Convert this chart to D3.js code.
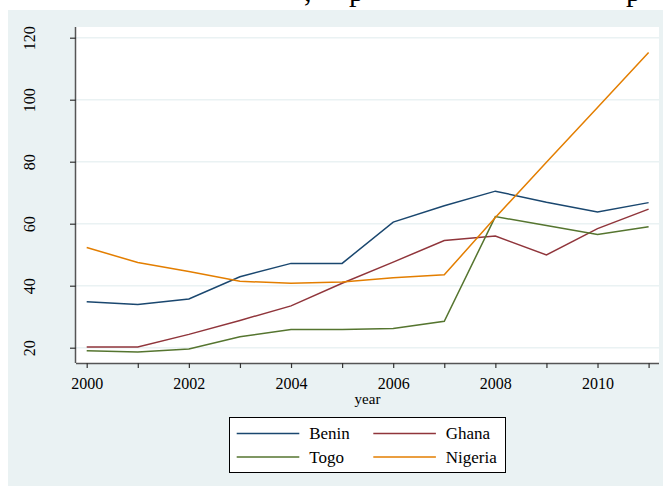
<!DOCTYPE html>
<html><head><meta charset="utf-8">
<script src="https://cdn.jsdelivr.net/npm/d3@7"></script>
<style>
html,body{margin:0;padding:0;background:#fff;}
svg{display:block;font-family:"Liberation Serif","Times New Roman",serif;}
</style></head>
<body>
<svg id="c" width="663" height="486"></svg>
<script>
const years = [2000,2001,2002,2003,2004,2005,2006,2007,2008,2009,2010,2011];
const benin   = [34.8,33.9,35.7,42.9,47.2,47.2,60.5,65.8,70.5,66.9,63.8,66.8];
const ghana   = [20.2,20.2,24.3,28.8,33.5,40.8,47.6,54.6,56.0,49.9,58.4,64.7];
const togo    = [19.0,18.6,19.6,23.5,25.9,25.9,26.2,28.5,62.3,59.4,56.5,59.0];
const nigeria = [52.3,47.5,44.6,41.4,40.8,41.2,42.6,43.5,62.0,79.8,97.5,115.2];
const seriesNames = ["Benin","Ghana","Togo","Nigeria"];
const seriesColors = ["#1a476f","#90353b","#55752f","#e37e00"];
const yTicks = [20,40,60,80,100,120];
const xTickLabels = [2000,2002,2004,2006,2008,2010];
const xLabel = "year";

const series = [benin, ghana, togo, nigeria];
const svg = d3.select("#c");
const SERIF = "'Liberation Serif', 'Times New Roman', serif";

// document fragments at the top
svg.append("rect").attr("x",0).attr("y",0).attr("width",663).attr("height",10).attr("fill","#fff");
svg.append("g").attr("font-size",30).attr("fill","#000").attr("font-family",SERIF)
  .selectAll("text").data([{t:",",x:304},{t:"p",x:349},{t:"p",x:626}]).join("text")
  .attr("x",d=>d.x).attr("y",1).text(d=>d.t);

// outer background
svg.append("rect").attr("x",8).attr("y",10).attr("width",655).attr("height",476).attr("fill","#eaf2f3");

const L=76, R=659, T=27, B=363;
svg.append("rect").attr("x",L).attr("y",T).attr("width",R-L).attr("height",B-T).attr("fill","#fff");

const x = d3.scaleLinear().domain([2000,2011]).range([86.7,648.6]);
const y = d3.scaleLinear().domain([20,120]).range([347.7,37.7]);

// gridlines
svg.append("g").selectAll("line").data(yTicks).join("line")
  .attr("x1",L).attr("x2",R).attr("y1",d=>y(d)).attr("y2",d=>y(d))
  .attr("stroke","#eaf2f3").attr("stroke-width",1.5);

// lines
const line = d3.line().x((d,i)=>x(years[i])).y(d=>y(d));
svg.append("g").selectAll("path").data(series).join("path")
  .attr("d",d=>line(d)).attr("fill","none")
  .attr("stroke",(d,i)=>seriesColors[i]).attr("stroke-width",1.5)
  .attr("stroke-linejoin","miter");

// y axis
const yAxis = d3.axisLeft(y).tickValues(yTicks).tickSize(6).tickPadding(34).tickFormat(d3.format("d"));
const gy = svg.append("g").attr("transform",`translate(${L},0)`).call(yAxis);
gy.attr("font-family",SERIF);
gy.select(".domain").attr("d",`M-0.5,${T}V${B}`).attr("stroke","#555").attr("stroke-width",1.5);
gy.selectAll(".tick line").attr("stroke","#333").attr("stroke-width",1.2);
gy.selectAll(".tick text").attr("font-size",16).attr("font-family",SERIF).attr("fill","#000")
  .attr("text-anchor","middle").attr("dy",0).attr("x",0).attr("y",0)
  .attr("transform","translate(-41.5,0) rotate(-90)");

// x axis
const xAxis = d3.axisBottom(x).tickValues(years).tickSize(5).tickPadding(8)
  .tickFormat(d=>xTickLabels.includes(d)?String(d):"");
const gx = svg.append("g").attr("transform",`translate(0,${B})`).call(xAxis);
gx.attr("font-family",SERIF);
gx.select(".domain").attr("d",`M${L},0.5H${R}`).attr("stroke","#555").attr("stroke-width",1.5);
gx.selectAll(".tick line").attr("stroke","#333").attr("stroke-width",1.2);
gx.selectAll(".tick text").attr("font-size",16).attr("font-family",SERIF).attr("fill","#000")
  .attr("dy",0).attr("y",26);

svg.append("text").attr("x",(L+R)/2).attr("y",404).attr("text-anchor","middle")
  .attr("font-family",SERIF).attr("font-size",15).attr("fill","#000").text(xLabel);

// legend
const lg = svg.append("g").attr("font-family",SERIF);
lg.append("rect").attr("x",229.5).attr("y",417.5).attr("width",276).attr("height",55)
  .attr("fill","#fff").attr("stroke","#000").attr("stroke-width",1);
const pos = [{lx:236.7,ly:433.5},{lx:373.3,ly:433.5},{lx:236.7,ly:457},{lx:373.3,ly:457}];
seriesNames.forEach((n,i)=>{
  const p = pos[i];
  lg.append("line").attr("x1",p.lx).attr("x2",p.lx+62.6).attr("y1",p.ly).attr("y2",p.ly)
    .attr("stroke",seriesColors[i]).attr("stroke-width",1.5);
  lg.append("text").attr("x",p.lx+72.5).attr("y",p.ly+5.5).attr("font-size",17).attr("fill","#000").text(n);
});
</script>
</body></html>
